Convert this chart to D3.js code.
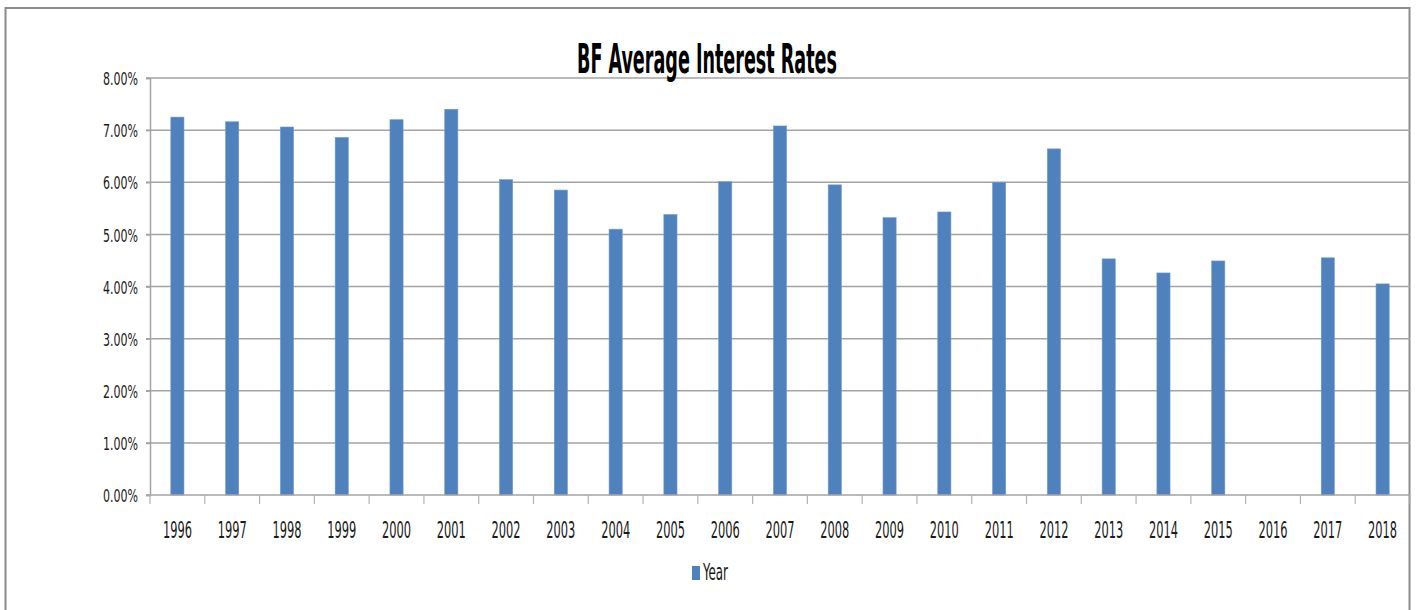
<!DOCTYPE html>
<html>
<head>
<meta charset="utf-8">
<script src="https://cdn.jsdelivr.net/npm/d3@7"></script>
<style>
  body { margin: 0; background: #fff; }
  svg { display: block; }
  text { font-family: "Liberation Sans Narrow", "DejaVu Sans Condensed", "Liberation Sans", sans-serif; fill: #1a1a1a; }
</style>
</head>
<body>
<svg id="chart" width="1416" height="610"></svg>
<script>
const years = ['1996', '1997', '1998', '1999', '2000', '2001', '2002', '2003', '2004', '2005', '2006', '2007',
  '2008', '2009', '2010', '2011', '2012', '2013', '2014', '2015', '2016', '2017', '2018'];
const rates = [0.0725, 0.0716, 0.0706, 0.0686, 0.0720, 0.0740, 0.0605, 0.0585, 0.0510, 0.0538, 0.0601, 0.0708,
  0.0595, 0.0532, 0.0543, 0.0600, 0.0664, 0.0453, 0.0426, 0.0449, null, 0.0455, 0.0405];
const yTicks = [0, 0.01, 0.02, 0.03, 0.04, 0.05, 0.06, 0.07, 0.08];
const seriesName = 'Year';
const title = 'BF Average Interest Rates';

const svg = d3.select('#chart');
const margin = { left: 150, right: 6, top: 78, bottom: 115 };
const width = 1416, height = 610;

// outer chart frame
svg.append('rect')
  .attr('x', 5.5).attr('y', 8)
  .attr('width', 1404).attr('height', 640)
  .attr('fill', 'none')
  .attr('stroke', '#8c8c8c')
  .attr('stroke-width', 2);

const x = d3.scaleBand()
  .domain(years)
  .range([margin.left, width - margin.right])
  .padding(0);

const y = d3.scaleLinear()
  .domain([0, 0.08])
  .range([height - margin.bottom, margin.top]);

// gridlines
svg.append('g')
  .selectAll('line')
  .data(yTicks.slice(1))
  .join('line')
  .attr('x1', margin.left - 4).attr('x2', width - margin.right)
  .attr('y1', d => y(d)).attr('y2', d => y(d))
  .attr('stroke', '#a3a3a3')
  .attr('stroke-width', 1.5);

// bars
const barW = x.bandwidth() * 0.24;
svg.append('g')
  .selectAll('rect')
  .data(years.map((yr, i) => ({ yr, v: rates[i] })).filter(d => d.v != null))
  .join('rect')
  .attr('x', d => x(d.yr) + (x.bandwidth() - barW) / 2)
  .attr('y', d => y(d.v))
  .attr('width', barW)
  .attr('height', d => y(0) - y(d.v))
  .attr('fill', '#4f81bd')
  .attr('stroke', '#6f9bd0')
  .attr('stroke-width', 0.6);

// y axis
const yAxis = svg.append('g')
  .attr('transform', `translate(${margin.left},0)`)
  .call(d3.axisLeft(y).tickValues(yTicks).tickFormat(d3.format('.2%')).tickSize(4).tickPadding(8));
yAxis.select('.domain').attr('stroke', '#a3a3a3').attr('stroke-width', 1.5);
yAxis.selectAll('.tick line').attr('stroke', '#a3a3a3').attr('stroke-width', 1.5);
yAxis.selectAll('.tick text')
  .attr('font-size', 18.5)
  .attr('dy', '0.36em')
  .attr('textLength', 35)
  .attr('lengthAdjust', 'spacingAndGlyphs');

// x axis line and band boundary ticks
svg.append('line')
  .attr('x1', margin.left - 4).attr('x2', width - margin.right)
  .attr('y1', y(0)).attr('y2', y(0))
  .attr('stroke', '#a3a3a3').attr('stroke-width', 1.5);
svg.append('g')
  .selectAll('line')
  .data(years.concat(['end']))
  .join('line')
  .attr('x1', (d, i) => margin.left + i * x.step())
  .attr('x2', (d, i) => margin.left + i * x.step())
  .attr('y1', y(0)).attr('y2', y(0) + 9)
  .attr('stroke', '#b3b3b3').attr('stroke-width', 1.2);

const xAxis = svg.append('g')
  .attr('transform', `translate(0,${y(0)})`)
  .call(d3.axisBottom(x).tickSize(0).tickPadding(0));
xAxis.select('.domain').remove();
xAxis.selectAll('.tick text')
  .attr('font-size', 23)
  .attr('y', 43)
  .attr('dy', 0)
  .attr('textLength', 29)
  .attr('lengthAdjust', 'spacingAndGlyphs');

// title
svg.append('text')
  .attr('x', 707).attr('y', 73)
  .attr('text-anchor', 'middle')
  .attr('font-size', 40)
  .attr('font-weight', 'bold')
  .attr('textLength', 260)
  .attr('lengthAdjust', 'spacingAndGlyphs')
  .style('fill', '#000')
  .text(title);

// legend
const legend = svg.append('g').attr('transform', 'translate(692,566)');
legend.append('rect')
  .attr('width', 8).attr('height', 14)
  .attr('fill', '#4f81bd');
legend.append('text')
  .attr('x', 11).attr('y', 14)
  .attr('font-size', 23)
  .attr('textLength', 25)
  .attr('lengthAdjust', 'spacingAndGlyphs')
  .text(seriesName);
</script>
</body>
</html>
